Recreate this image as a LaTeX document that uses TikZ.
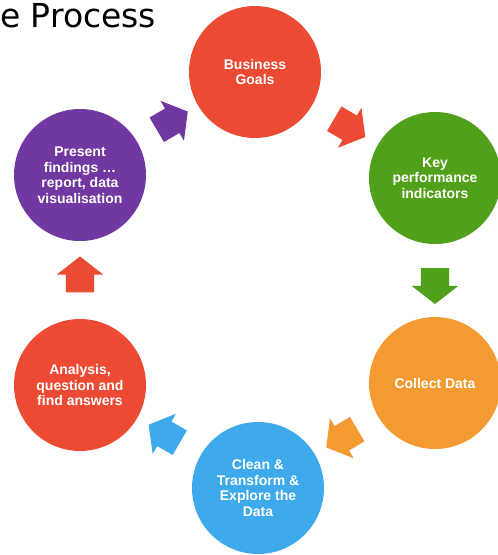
\documentclass[tikz,border=0pt]{standalone}
\usepackage{fontspec}
\setmainfont{Liberation Sans}
\newfontfamily\titlefont{DejaVu Sans}
\usetikzlibrary{shapes.arrows}

\definecolor{goalred}{RGB}{236,74,50}
\definecolor{kpigreen}{RGB}{80,160,25}
\definecolor{dataorange}{RGB}{243,155,50}
\definecolor{cleanblue}{RGB}{62,170,235}
\definecolor{presentpurple}{RGB}{112,56,160}

\begin{document}
\begin{tikzpicture}[x=1pt, y=-1pt,
    phase/.style={circle, fill=#1, minimum size=132pt, inner sep=0pt, text=white, align=center, font=\bfseries\fontsize{14}{15.5}\selectfont},
    flow/.style={single arrow, fill=#1, draw=none, minimum height=36pt, inner xsep=0pt, inner ysep=14pt, single arrow head extend=9pt, single arrow tip angle=104, midway, sloped, allow upside down}]
    \useasboundingbox (0,0) rectangle (498,555);
    \node[anchor=base west, inner sep=0pt, font=\titlefont\fontsize{33}{33}\selectfont] (title) at (0,27) {e Process};

    \node[phase=goalred] (goals) at (255,72) {Business\\Goals};
    \node[phase=kpigreen] (kpi) at (435,178) {Key\\performance\\indicators};
    \node[phase=dataorange] (collect) at (435,383) {Collect Data};
    \node[phase=cleanblue] (clean) at (258,488) {Clean \&\\Transform \&\\Explore the\\Data};
    \node[phase=goalred] (analysis) at (80,385) {Analysis,\\question and\\find answers};
    \node[phase=presentpurple] (present) at (80,175) {Present\\findings \ldots\\report, data\\visualisation};

    \path (goals) -- node[flow=goalred] (goals-kpi) {} (kpi);
    \path (kpi) -- node[flow=kpigreen] (kpi-collect) {} (collect);
    \path (collect) -- node[flow=dataorange] (collect-clean) {} (clean);
    \path (clean) -- node[flow=cleanblue] (clean-analysis) {} (analysis);
    \path (analysis) -- node[flow=goalred] (analysis-present) {} (present);
    \path (present) -- node[flow=presentpurple] (present-goals) {} (goals);
\end{tikzpicture}
\end{document}
